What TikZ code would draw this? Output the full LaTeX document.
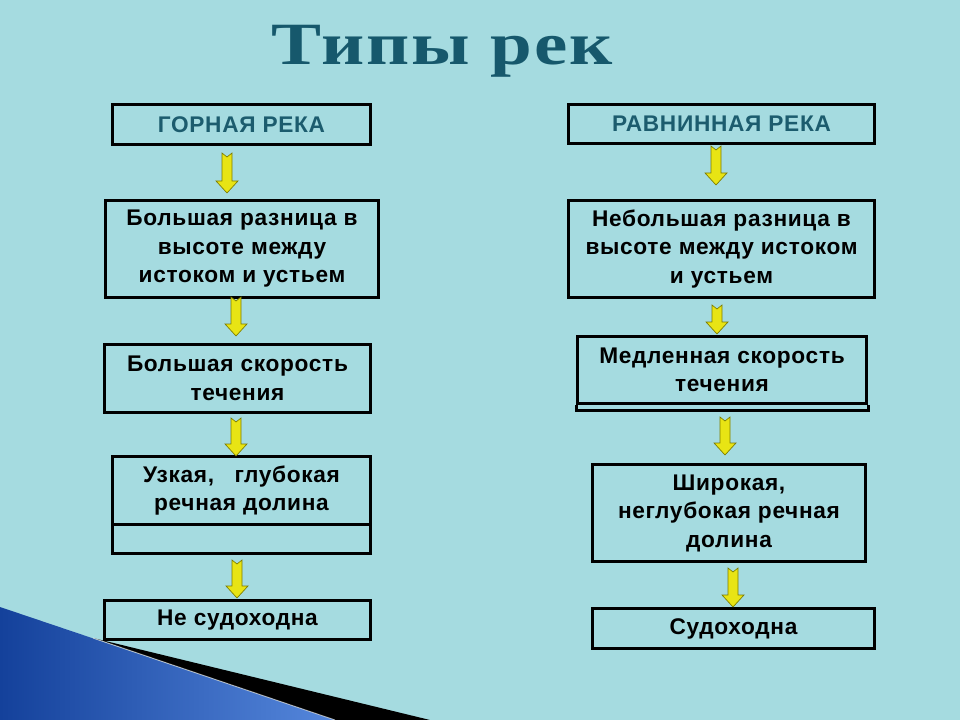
\documentclass[tikz,border=0pt]{standalone}
\usepackage{fontspec}
\setmainfont{Liberation Sans}
\newfontfamily\titlefont[FakeStretch=1.25,LetterSpace=3]{Liberation Serif}
\newfontfamily\boxfont[LetterSpace=3]{Liberation Sans}
\usetikzlibrary{calc}
\definecolor{bgc}{RGB}{165,219,224}
\definecolor{titlec}{RGB}{22,88,108}
\definecolor{headc}{RGB}{28,92,110}
\definecolor{arrowc}{RGB}{232,228,20}
\definecolor{arrowd}{RGB}{125,125,0}
\definecolor{blued}{RGB}{20,65,155}
\definecolor{bluel}{RGB}{85,135,220}
\tikzset{
  boxstyle/.style={draw=black, line width=2.25pt, inner sep=0pt, anchor=north west,
    align=center, font=\boxfont\bfseries\fontsize{17}{21.4}\selectfont},
  wh/.style 2 args={minimum width=#1*0.75pt, minimum height=#2*0.75pt},
  headtext/.style={text=headc},
  arrowstyle/.style={fill=arrowc, draw=arrowd, line width=0.5pt, line join=miter},
  boxline/.style={draw=black, line width=2.25pt}
}
\newcommand\blockarrow[2]{%
  \draw[arrowstyle] let \p1=(#1), \p2=(#2) in
  (\x1-3.75pt,\y1) -- (\x1,\y1-3pt) -- (\x1+3.75pt,\y1) -- (\x1+3.75pt,\y2+9pt)
  -- (\x1+8.25pt,\y2+9pt) -- (\x1,\y2) -- (\x1-8.25pt,\y2+9pt)
  -- (\x1-3.75pt,\y2+9pt) -- cycle;}
\begin{document}
\begin{tikzpicture}[x=0.75pt,y=-0.75pt]
\fill[bgc] (0,0) rectangle (960,720);
\useasboundingbox (0,0) rectangle (960,720);
% corner decoration
\shade[left color=blued, right color=bluel] (0,607) -- (335,720) -- (0,720) -- cycle;
\fill[black] (93,638) -- (430,720) -- (335,720) -- cycle;
\draw[white, opacity=0.6, line width=0.7pt] (93,638) -- (335,720);
% title
\node[anchor=base, text=titlec, font=\titlefont\bfseries\fontsize{45}{50}\selectfont] (title) at (442,65) {Типы рек};
% left column
\node[boxstyle, wh={258}{40}, headtext] (l1) at (111,103) {ГОРНАЯ РЕКА};
\node[boxstyle, wh={273}{97}] (l2) at (104,199) {Большая разница в\\высоте между\\истоком и устьем};
\node[boxstyle, wh={266}{68}] (l3) at (103,343) {Большая скорость\\течения};
\node[boxstyle, wh={258}{68}] (l4) at (111,455) {Узкая,\hspace{0.9em}глубокая\\речная долина};
\node[boxstyle, wh={258}{29}] (l4b) at (111,523) {};
\node[boxstyle, wh={266}{39}] (l5) at (103,599) {Не судоходна};
% right column
\node[boxstyle, wh={306}{39}, headtext] (r1) at (567,103) {РАВНИННАЯ РЕКА};
\node[boxstyle, wh={306}{97}] (r2) at (567,199) {Небольшая разница в\\высоте между истоком\\и устьем};
\node[boxstyle, wh={289}{67}] (r3) at (576,335) {Медленная скорость\\течения};
\draw[boxline] (r3.south west) -- ++(0,5) -- ($(r3.south east)+(0,5)$) -- (r3.south east);
\node[boxstyle, wh={273}{97}] (r4) at (591,463) {Широкая,\\неглубокая речная\\долина};
\node[boxstyle, wh={282}{40}] (r5) at (591,607) {Судоходна};
% arrow end points
\coordinate (la1s) at (227,153); \coordinate (la1e) at (227,193);
\coordinate (la2s) at (236,297); \coordinate (la2e) at (236,336);
\coordinate (la3s) at (236,418); \coordinate (la3e) at (236,456);
\coordinate (la4s) at (237,560); \coordinate (la4e) at (237,598);
\coordinate (ra1s) at (716,146); \coordinate (ra1e) at (716,185);
\coordinate (ra2s) at (717,305); \coordinate (ra2e) at (717,334);
\coordinate (ra3s) at (725,417); \coordinate (ra3e) at (725,455);
\coordinate (ra4s) at (733,568); \coordinate (ra4e) at (733,607);
\blockarrow{la1s}{la1e}
\blockarrow{la2s}{la2e}
\blockarrow{la3s}{la3e}
\blockarrow{la4s}{la4e}
\blockarrow{ra1s}{ra1e}
\blockarrow{ra2s}{ra2e}
\blockarrow{ra3s}{ra3e}
\blockarrow{ra4s}{ra4e}
\end{tikzpicture}
\end{document}
